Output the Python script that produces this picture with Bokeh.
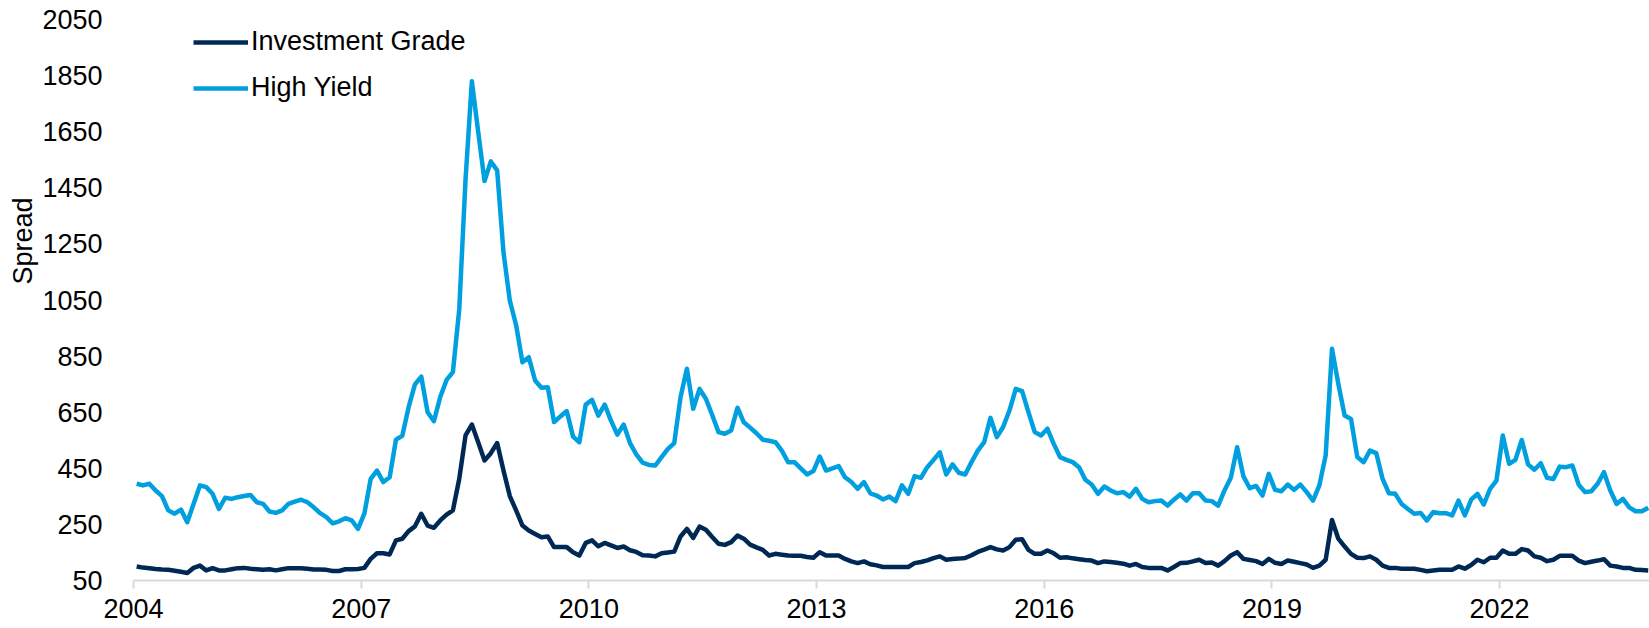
import math
from bokeh.plotting import figure
from bokeh.models import (Range1d, ColumnDataSource, Legend, LegendItem, Title,
                          FixedTicker)
from bokeh.embed import file_html
from bokeh.resources import INLINE

# ---- data (monthly spreads, Jan 2004 onward) ----
start_year = 2004
tick_years = [2004, 2007, 2010, 2013, 2016, 2019, 2022]
y_ticks = [50, 250, 450, 650, 850, 1050, 1250, 1450, 1650, 1850, 2050]

high_yield = [
    395, 389, 395, 371, 351, 300, 288, 303, 258, 323,
    389, 383, 359, 305, 345, 341, 347, 351, 355, 329,
    323, 296, 291, 300, 323, 331, 338, 329, 311, 290,
    276, 254, 261, 272, 264, 234, 288, 412, 442, 401,
    418, 552, 566, 668, 749, 777, 650, 618, 704, 765,
    793, 1015, 1480, 1830, 1650, 1474, 1544, 1512, 1220, 1048,
    960, 828, 846, 763, 737, 739, 615, 635, 654, 563,
    543, 677, 694, 638, 677, 620, 570, 606, 540, 500,
    470, 462, 460, 490, 519, 540, 704, 805, 662, 733,
    698, 640, 579, 573, 585, 666, 614, 595, 575, 552,
    548, 543, 513, 472, 472, 450, 428, 440, 492, 442,
    450, 458, 418, 401, 377, 401, 361, 353, 339, 349,
    333, 389, 359, 422, 416, 454, 480, 507, 428, 464,
    434, 428, 472, 513, 543, 630, 561, 597, 656, 733,
    725, 650, 579, 567, 591, 537, 490, 480, 472, 454,
    409, 392, 359, 385, 371, 361, 365, 349, 377, 341,
    329, 333, 335, 317, 338, 357, 335, 361, 361, 335,
    333, 317, 371, 416, 525, 421, 379, 387, 353, 430,
    373, 368, 392, 373, 392, 365, 335, 389, 496, 876,
    751, 638, 626, 490, 472, 513, 504, 412, 361, 359,
    323, 305, 288, 291, 264, 294, 290, 290, 282, 335,
    282, 338, 359, 321, 377, 406, 567, 466, 480, 551,
    464, 445, 468, 416, 412, 456, 454, 460, 392, 365,
    368, 395, 436, 371, 323, 341, 311, 297, 297, 309,
]

investment_grade = [
    100, 96, 94, 91, 89, 88, 85, 81, 77, 95,
    103, 86, 94, 86, 86, 90, 94, 95, 92, 90,
    88, 90, 86, 90, 94, 94, 94, 92, 89, 89,
    88, 84, 84, 90, 90, 91, 95, 127, 147, 147,
    143, 193, 199, 226, 243, 288, 246, 238, 264, 285,
    300, 412, 567, 606, 543, 478, 504, 540, 442, 351,
    300, 246, 228, 216, 204, 207, 169, 169, 169, 151,
    139, 184, 193, 172, 184, 175, 166, 171, 158, 152,
    140, 139, 136, 147, 150, 153, 207, 234, 202, 242,
    231, 205, 181, 177, 187, 210, 199, 178, 168, 159,
    139, 145, 142, 139, 138, 138, 134, 131, 151, 139,
    139, 139, 127, 118, 112, 118, 108, 104, 98, 98,
    98, 98, 98, 112, 116, 122, 130, 136, 124, 127,
    128, 130, 140, 152, 160, 169, 161, 157, 169, 195,
    197, 159, 145, 145, 157, 147, 131, 133, 129, 126,
    123, 121, 112, 118, 116, 113, 110, 103, 109, 98,
    95, 95, 95, 86, 98, 112, 113, 118, 124, 112,
    114, 103, 119, 139, 151, 127, 123, 119, 109, 127,
    113, 109, 121, 117, 112, 107, 95, 103, 124, 266,
    199, 171, 145, 131, 130, 136, 124, 103, 95, 95,
    92, 92, 92, 88, 83, 86, 88, 88, 88, 100,
    92, 105, 124, 115, 131, 131, 157, 145, 145, 162,
    157, 136, 131, 119, 124, 138, 138, 138, 121, 112,
    117, 121, 126, 103, 100, 95, 95, 88, 87, 86,
]

series_names = ["Investment Grade", "High Yield"]
y_title = "Spread"
colors = ["#002855", "#009FDF"]

FONT = "Liberation Sans"
FSIZE = "27px"

# months are categories centred between the yearly tick marks
n = len(high_yield)
month_pos = [i + 0.5 for i in range(n)]
src = ColumnDataSource(dict(x=month_pos, hy=high_yield, ig=investment_grade))

p = figure(width=1649, height=628, output_backend="svg", toolbar_location=None,
           x_range=Range1d(0, 239.7), y_range=Range1d(50, 2050),
           min_border_left=133, min_border_top=19, min_border_bottom=48,
           min_border_right=0)
p.outline_line_color = None
p.grid.visible = False
p.background_fill_color = "white"
p.border_fill_color = "white"

r_hy = p.line("x", "hy", source=src, line_color=colors[1], line_width=4.5,
              line_join="round")
r_ig = p.line("x", "ig", source=src, line_color=colors[0], line_width=4.5,
              line_join="round")

# x axis
xt = [(y - start_year) * 12 for y in tick_years]
p.xaxis.ticker = FixedTicker(ticks=xt)
p.xaxis.major_label_overrides = {t: str(y) for t, y in zip(xt, tick_years)}
p.xaxis.axis_line_color = "#D9D9D9"
p.xaxis.axis_line_width = 2
p.xaxis.major_tick_line_color = "#D9D9D9"
p.xaxis.major_tick_line_width = 2
p.xaxis.major_tick_out = 8
p.xaxis.major_tick_in = 0
p.xaxis.minor_tick_line_color = None
p.xaxis.major_label_standoff = 10
p.xaxis.major_label_text_line_height = 1.0
p.xaxis.major_label_text_font = FONT
p.xaxis.major_label_text_font_size = FSIZE
p.xaxis.major_label_text_color = "black"

# y axis
p.yaxis.ticker = FixedTicker(ticks=y_ticks)
p.yaxis.axis_line_color = None
p.yaxis.major_tick_line_color = None
p.yaxis.minor_tick_line_color = None
p.yaxis.major_label_standoff = 25
p.yaxis.major_label_text_font = FONT
p.yaxis.major_label_text_font_size = FSIZE
p.yaxis.major_label_text_color = "black"

# y axis title, placed like the reference (left margin, above centre)
p.add_layout(Title(text=y_title, align="right", offset=178, standoff=4,
                   text_font=FONT, text_font_size=FSIZE,
                   text_font_style="normal", text_color="black"), "left")

legend = Legend(items=[LegendItem(label=series_names[0], renderers=[r_ig]),
                       LegendItem(label=series_names[1], renderers=[r_hy])],
                location=(60, 477), glyph_width=55, glyph_height=30,
                label_height=30, label_standoff=3, spacing=15, padding=0,
                margin=0, border_line_color=None, background_fill_alpha=0,
                label_text_font=FONT, label_text_font_size=FSIZE,
                label_text_color="black")
p.add_layout(legend)

open("out.html", "w").write(file_html(p, INLINE))
